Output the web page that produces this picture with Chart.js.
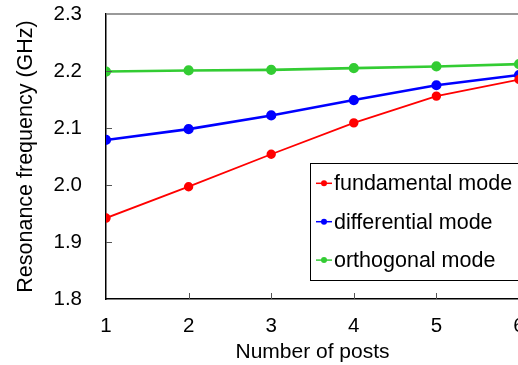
<!DOCTYPE html>
<html>
<head>
<meta charset="utf-8">
<script src="https://cdn.jsdelivr.net/npm/chart.js@4"></script>
<style>
  html, body { margin: 0; padding: 0; background: #fff; overflow: hidden; }
  #wrap { width: 518px; height: 365px; overflow: hidden; }
</style>
</head>
<body>
<div id="wrap"><canvas id="chart" width="560" height="365"></canvas></div>
<script>
const posts = [1, 2, 3, 4, 5, 6];
const fundamental = [1.942, 1.997, 2.054, 2.109, 2.156, 2.185];
const differential = [2.079, 2.098, 2.122, 2.149, 2.175, 2.193];
const orthogonal = [2.199, 2.201, 2.202, 2.205, 2.208, 2.212];
const yTicks = [1.8, 1.9, 2.0, 2.1, 2.2, 2.3];

const FONT = 'Liberation Sans, Arial, sans-serif';

function toPoints(values) {
  return posts.map((p, i) => ({ x: p, y: values[i] }));
}

// inward tick marks and top frame line
const frame = {
  id: 'frame',
  afterDraw(chart) {
    const { ctx, chartArea: a, scales: { x, y } } = chart;
    ctx.save();
    ctx.strokeStyle = '#777';
    ctx.lineWidth = 1.5;
    ctx.beginPath();
    ctx.moveTo(a.left, a.top);
    ctx.lineTo(a.right + 40, a.top);
    ctx.stroke();
    ctx.strokeStyle = '#555';
    ctx.lineWidth = 1;
    ctx.beginPath();
    posts.slice(1, -1).forEach(p => {
      const px = Math.round(x.getPixelForValue(p)) + 0.5;
      ctx.moveTo(px, a.bottom);
      ctx.lineTo(px, a.bottom - 6);
    });
    yTicks.slice(1, -1).forEach(v => {
      const py = Math.round(y.getPixelForValue(v)) + 0.5;
      ctx.moveTo(a.left, py);
      ctx.lineTo(a.left + 6, py);
    });
    ctx.stroke();
    ctx.restore();
  }
};

// boxed legend inside the plot
const boxLegend = {
  id: 'boxLegend',
  afterDraw(chart) {
    const { ctx } = chart;
    ctx.save();
    ctx.strokeStyle = '#000';
    ctx.lineWidth = 1;
    ctx.strokeRect(310.5, 163.5, 250, 117);
    ctx.font = '21.5px ' + FONT;
    ctx.textBaseline = 'middle';
    chart.data.datasets.forEach((ds, i) => {
      const cy = 183.3 + i * 38.4;
      ctx.strokeStyle = ds.borderColor;
      ctx.lineWidth = 1.5;
      ctx.beginPath();
      ctx.moveTo(316, cy);
      ctx.lineTo(332, cy);
      ctx.stroke();
      ctx.fillStyle = ds.borderColor;
      ctx.beginPath();
      ctx.arc(324, cy, 3, 0, Math.PI * 2);
      ctx.fill();
      ctx.fillStyle = '#000';
      ctx.fillText(ds.label, 334, cy + 1);
    });
    ctx.restore();
  }
};

new Chart(document.getElementById('chart'), {
  type: 'line',
  data: {
    datasets: [
      { label: 'fundamental mode', data: toPoints(fundamental), borderColor: '#ff0000', backgroundColor: '#ff0000', borderWidth: 1.8, pointRadius: 3.8 },
      { label: 'differential mode', data: toPoints(differential), borderColor: '#0000ff', backgroundColor: '#0000ff', borderWidth: 2.6, pointRadius: 3.8 },
      { label: 'orthogonal mode', data: toPoints(orthogonal), borderColor: '#33cc33', backgroundColor: '#33cc33', borderWidth: 2.6, pointRadius: 3.8 }
    ]
  },
  options: {
    responsive: false,
    animation: false,
    devicePixelRatio: 1,
    layout: { padding: { left: 0, right: 41, top: 14, bottom: 0 } },
    plugins: { legend: { display: false }, tooltip: { enabled: false } },
    elements: { line: { tension: 0 }, point: { borderWidth: 0 } },
    scales: {
      x: {
        type: 'linear',
        min: 1, max: 6,
        afterFit: s => { s.height = 66; s.paddingLeft = 0; s.paddingRight = 0; },
        afterBuildTicks: s => { s.ticks = posts.map(v => ({ value: v })); },
        grid: { drawOnChartArea: false, drawTicks: false },
        border: { color: '#000', width: 1.5 },
        ticks: { color: '#000', font: { family: FONT, size: 20.5 }, padding: 15, maxRotation: 0 },
        title: { display: true, text: 'Number of posts', color: '#000', font: { family: FONT, size: 21 }, padding: { top: 0, bottom: 0 } }
      },
      y: {
        min: 1.8, max: 2.3,
        afterFit: s => { s.width = 106; s.paddingTop = 0; s.paddingBottom = 0; },
        afterBuildTicks: s => { s.ticks = yTicks.map(v => ({ value: v })); },
        grid: { drawOnChartArea: false, drawTicks: false },
        border: { color: '#000', width: 1.5 },
        ticks: { color: '#000', font: { family: FONT, size: 20.5 }, padding: 24, callback: v => v.toFixed(1) },
        title: { display: true, text: 'Resonance frequency (GHz)', color: '#000', font: { family: FONT, size: 21.5 }, padding: { top: 13, bottom: 0 } }
      }
    }
  },
  plugins: [frame, boxLegend]
});
</script>
</body>
</html>
